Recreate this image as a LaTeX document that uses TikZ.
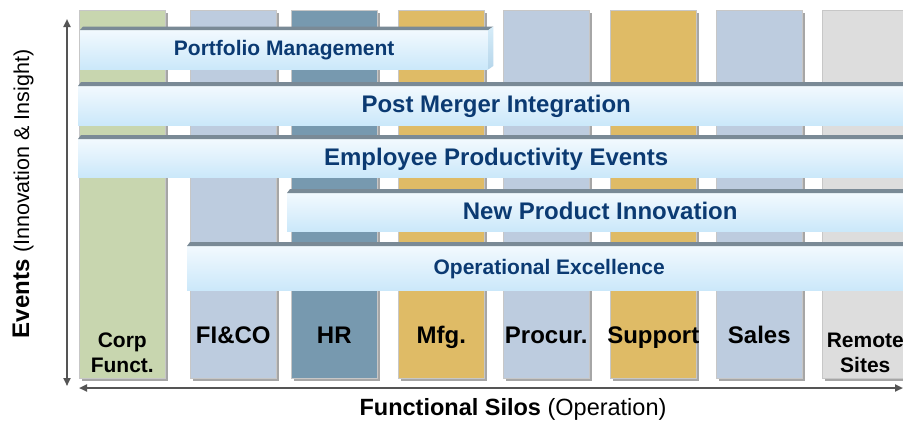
\documentclass[tikz,border=0pt]{standalone}
\usepackage{fontspec}
\setmainfont{Liberation Sans}
\usetikzlibrary{arrows.meta,shadows}
\definecolor{corpgreen}{HTML}{C8D6AF}
\definecolor{siloblue}{HTML}{BDCCDF}
\definecolor{hrblue}{HTML}{7799AF}
\definecolor{mfggold}{HTML}{DFBB66}
\definecolor{remotegray}{HTML}{DDDDDD}
\definecolor{barrim}{HTML}{7A8A96}
\definecolor{bartop}{HTML}{F2F9FE}
\definecolor{barbottom}{HTML}{CBE8FA}
\definecolor{sidetop}{HTML}{D6ECF8}
\definecolor{sidebottom}{HTML}{B6D6EB}
\definecolor{bartext}{HTML}{0B3A72}
\definecolor{axisgray}{HTML}{555555}
\tikzstyle{silo} = [rectangle, anchor=north west, minimum width=86pt, minimum height=368pt, inner sep=0pt, draw=black!22, line width=0.6pt, drop shadow={shadow xshift=2.2pt, shadow yshift=-2.2pt, fill=black!35, opacity=1}]
\tikzstyle{silotext} = [font=\bfseries\fontsize{24}{26}\selectfont, inner sep=0pt, anchor=base]
\tikzstyle{silosmall} = [font=\bfseries\fontsize{21}{25}\selectfont, inner sep=0pt, align=center]
\tikzstyle{eventbar} = [rectangle, anchor=north west, inner sep=0pt, top color=bartop, bottom color=barbottom, text=bartext]
\tikzstyle{bigevent} = [eventbar, font=\bfseries\fontsize{24}{26}\selectfont, text height=17.3pt, text depth=3.6pt]
\tikzstyle{smallevent} = [eventbar, font=\bfseries\fontsize{21}{24}\selectfont, text height=15.1pt, text depth=3.2pt]
\tikzstyle{axis} = [line width=2pt, draw=axisgray, {Triangle[length=8pt,width=7pt]}-{Triangle[length=8pt,width=7pt]}]

\begin{document}
\begin{tikzpicture}[x=1pt, y=-1pt]
	\fill[white] (0,0) rectangle (903,421);
	\useasboundingbox (0,0) rectangle (903,421);

	% functional silos
	\node(corp) [silo, fill=corpgreen] at (79,10) {};
	\node(fi) [silo, fill=siloblue] at (190,10) {};
	\node(hr) [silo, fill=hrblue] at (291,10) {};
	\node(mfg) [silo, fill=mfggold] at (398,10) {};
	\node(procur) [silo, fill=siloblue] at (503,10) {};
	\node(support) [silo, fill=mfggold] at (610,10) {};
	\node(sales) [silo, fill=siloblue] at (716,10) {};
	\node(remote) [silo, fill=remotegray] at (822,10) {};

	\node(corplbl) [silosmall] at ([yshift=26pt]corp.south) {Corp\\Funct.};
	\node(filbl) [silotext] at ([yshift=35pt]fi.south) {FI\&CO};
	\node(hrlbl) [silotext] at ([yshift=35pt]hr.south) {HR};
	\node(mfglbl) [silotext] at ([yshift=35pt]mfg.south) {Mfg.};
	\node(procurlbl) [silotext] at ([yshift=35pt]procur.south) {Procur.};
	\node(supportlbl) [silotext] at ([yshift=35pt]support.south) {Support};
	\node(saleslbl) [silotext] at ([yshift=35pt]sales.south) {Sales};
	\node(remotelbl) [silosmall] at ([yshift=26pt]remote.south) {Remote\\Sites};

	% events
	\node(pfm) [smallevent, minimum width=408pt, minimum height=39pt] at (80,30) {Portfolio Management};
	\node(pmi) [bigevent, minimum width=836pt, minimum height=39pt] at (78,86) {Post Merger Integration};
	\node(epe) [bigevent, minimum width=836pt, minimum height=38pt] at (78,139) {Employee Productivity Events};
	\node(npi) [bigevent, minimum width=626pt, minimum height=38pt] at (287,193) {New Product Innovation};
	\node(opx) [smallevent, minimum width=724pt, minimum height=44pt] at (187,246) {Operational Excellence};

	\foreach \bar in {pmi,epe,npi,opx}
		\fill[barrim] (\bar.north west) -- ([xshift=3pt,yshift=4pt]\bar.north west) -- ([yshift=4pt]\bar.north east) -- (\bar.north east) -- cycle;
	\fill[barrim] (pfm.north west) -- ([xshift=3pt,yshift=3.5pt]pfm.north west) -- ([xshift=5pt,yshift=3.5pt]pfm.north east) -- (pfm.north east) -- cycle;
	\shade[top color=sidetop, bottom color=sidebottom] (pfm.north east) -- ([xshift=5pt,yshift=3.5pt]pfm.north east) -- ([xshift=5pt,yshift=3.5pt]pfm.south east) -- (pfm.south east) -- cycle;

	% axes
	\coordinate (ytop) at (67,19);
	\coordinate (ybot) at (67,386);
	\coordinate (xleft) at (79,388);
	\coordinate (xright) at (903,388);
	\draw[axis] (ybot) -- (ytop);
	\draw[axis] (xleft) -- (xright);

	\node(ylabel) [rotate=90, anchor=base, inner sep=0pt] at (29,194) {\fontsize{24}{28}\selectfont\bfseries Events \fontsize{21.5}{26}\selectfont\mdseries (Innovation \& Insight)};
	\node(xlabel) [anchor=base, inner sep=0pt] at (513,415) {\fontsize{23.5}{28}\selectfont\bfseries Functional Silos \mdseries (Operation)};
\end{tikzpicture}
\end{document}
